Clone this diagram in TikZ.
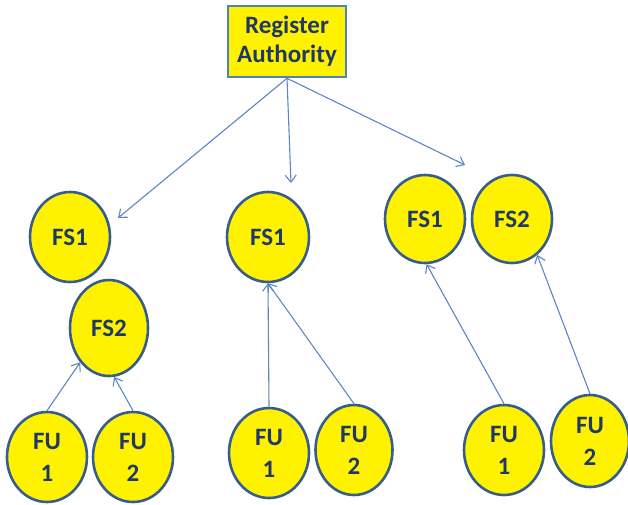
\documentclass[tikz,border=0pt]{standalone}
\usepackage{fontspec}
\setmainfont{Carlito}
\usetikzlibrary{shapes.geometric,arrows.meta}
\definecolor{ringblue}{RGB}{56,93,138}
\definecolor{boxblue}{RGB}{79,129,189}
\definecolor{inkblue}{RGB}{31,56,100}
\definecolor{linkblue}{RGB}{92,133,196}
\tikzset{
  server/.style={ellipse, draw=ringblue, line width=2.6pt, fill=yellow,
    minimum width=80pt, minimum height=90pt, inner sep=0pt,
    text=inkblue, font=\fontsize{25}{32}\selectfont\bfseries, align=center},
  authority/.style={rectangle, draw=boxblue, line width=2.6pt, fill=yellow,
    minimum width=118pt, minimum height=71pt, inner sep=0pt,
    text=inkblue, font=\fontsize{25}{29}\selectfont\bfseries, align=center},
  link/.style={draw=linkblue, line width=1.1pt,
    -{Straight Barb[length=7pt,width=11pt,line width=1.1pt]}}
}
\begin{document}
\begin{tikzpicture}[x=1pt,y=-1pt]
  \useasboundingbox (0,0) rectangle (628,504);

  % authority at the top
  \node[authority] (ra) at (287,41.5) {Register\\Authority};

  % left group: FS1 alone, FS2 fed by two users
  \node[server] (lfs1) at (70,237) {FS1};
  \node[server, minimum width=78pt, minimum height=96pt] (lfs2) at (109,328) {FS2};
  \node[server] (lfu1) at (47,457) {FU\\1};
  \node[server] (lfu2) at (133,457) {FU\\2};

  % middle group: one FS1 shared by both users
  \node[server, minimum width=82pt] (mfs1) at (268,237) {FS1};
  \node[server] (mfu1) at (269,453) {FU\\1};
  \node[server, minimum width=77pt] (mfu2) at (354,450) {FU\\2};

  % right group: each user has its own server
  \node[server, minimum height=88pt] (rfs1) at (425,219) {FS1};
  \node[server, minimum height=88pt] (rfs2) at (512,219) {FS2};
  \node[server] (rfu1) at (504,450) {FU\\1};
  \node[server, minimum width=78pt, minimum height=92pt] (rfu2) at (590,441) {FU\\2};

  % free ends of the authority links
  \coordinate (toleft) at (118,218);
  \coordinate (tomid) at (291,183);
  \coordinate (toright) at (465,165);

  \draw[link] (ra.south) -- (toleft);
  \draw[link] (ra.south) -- (tomid);
  \draw[link] (ra.south) -- (toright);

  % users to their servers
  \draw[link] (lfu1.north) -- (lfs2.230);
  \draw[link] (lfu2.north) -- (lfs2.276);
  \draw[link] (mfu1.north) -- (mfs1.south);
  \draw[link] (mfu2.north) -- (mfs1.south);
  \draw[link] (rfu1.north) -- (rfs1.272);
  \draw[link] (rfu2.north) -- (rfs2.305);
\end{tikzpicture}
\end{document}
